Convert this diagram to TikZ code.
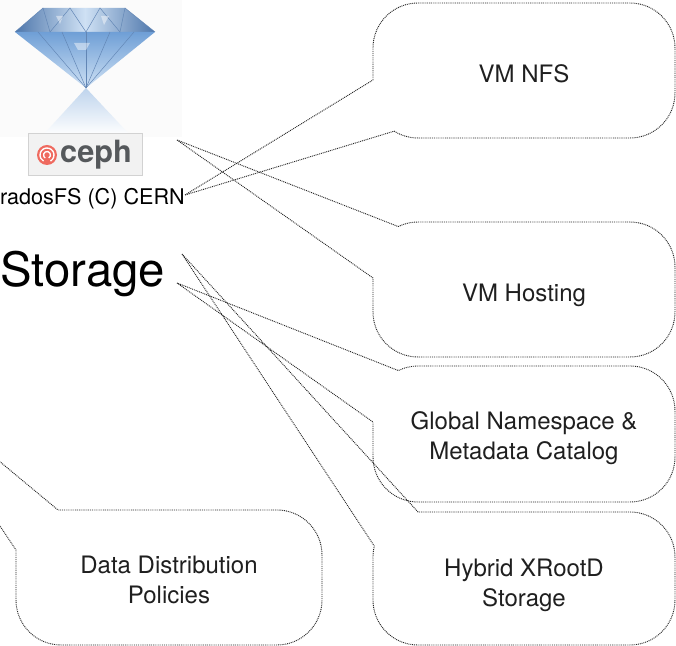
\documentclass[tikz,border=0pt]{standalone}
\usepackage{fontspec}
\setmainfont{TeX Gyre Heros}
\usepackage{xcolor}
\usetikzlibrary{positioning}
\definecolor{bubbleline}{HTML}{262626}
\definecolor{gemdark}{HTML}{2E5E9C}
\definecolor{gemmid}{HTML}{6F9FD6}
\definecolor{gemlight}{HTML}{CFE1F4}
\definecolor{cephred}{HTML}{EF6A5F}
\definecolor{cephgray}{HTML}{55585B}
\tikzset{
    bubble/.style={draw=bubbleline, line width=0.7pt, dash pattern=on 0.7pt off 0.7pt, line join=round},
    bubbletext/.style={align=center, font=\fontsize{18}{22.5}\selectfont, text=black!88},
    gemfacet/.style={draw=gemdark!75, line width=0.35pt},
    gemshine/.style={fill=white, opacity=0.45},
    cephbox/.style={draw=gray!35, fill=gray!10, line width=0.5pt},
    cephlabel/.style={font=\fontsize{23}{23}\bfseries, text=cephgray, inner sep=0pt}
}
\begin{document}
\begin{tikzpicture}[x=0.75pt, y=0.75pt]
    \useasboundingbox (0,0) rectangle (676,646);
    \clip (0,0) rectangle (676,646);

    % logo: diamond with its reflection, ceph badge
    \fill[gray!3] (0,509) rectangle (182,646);
    \shade[top color=gemmid!45, bottom color=white] (86,558) -- (130,511) -- (43,511) -- cycle;
    \shade[left color=gemdark!85, right color=gemdark!85, middle color=gemlight] (15,614) -- (43,638) -- (125,638) -- (155,614) -- cycle;
    \shade[top color=gemmid, bottom color=gemlight] (15,614) -- (155,614) -- (86,558) -- cycle;
    \draw[gemfacet] (15,614) -- (43,638) -- (50,614) -- (70,638) -- (86,614) -- (100,638) -- (120,614) -- (125,638) -- (155,614);
    \foreach \gx in {38,62,86,110,134}
        \draw[gemfacet] (\gx,614) -- (86,558);
    \fill[gemshine] (74,603) -- (90,603) -- (86,596) -- (78,596) -- cycle;
    \fill[gemshine] (56,630) -- (63,630) -- (60,622) -- cycle;
    \fill[gemshine] (101,630) -- (109,630) -- (104,621) -- cycle;
    \draw[cephbox] (28,471) rectangle (142,513);
    \node[circle, fill=cephred, minimum size=15pt, inner sep=0pt] (cephicon) at (47,491) {};
    \draw[white, line width=1pt] (cephicon.center) ++(-60:7) arc[start angle=-60, end angle=240, radius=7];
    \draw[white, line width=1pt] (cephicon.center) ++(-60:3.5) arc[start angle=-60, end angle=240, radius=3.5];
    \node[cephlabel, right=2pt of cephicon] (cephname) {ceph};

    \node[font=\fontsize{16.2}{16.2}\selectfont, anchor=base east, inner sep=0pt] (rados) at (185,441) {radosFS (C) CERN};
    \node[font=\fontsize{35.5}{35.5}\selectfont, anchor=base west, inner sep=0pt] (storage) at (0,359) {Storage};

    \coordinate (nfstip) at (185,451);
    \coordinate (hosttip) at (177,506);
    \coordinate (catalogtip) at (177,363);
    \coordinate (xrootdtip) at (182,392);
    \coordinate (policytip) at (-96,264);

    % speech bubbles
    \draw[bubble] (nfstip) -- (373,566) -- (373,598) arc[start angle=180, end angle=90, radius=45] -- (630,643) arc[start angle=90, end angle=0, radius=45] -- (675,553) arc[start angle=0, end angle=-90, radius=45] -- (418,508) arc[start angle=270, end angle=238, radius=45] -- cycle;
    \draw[bubble] (hosttip) -- (373,368) -- (373,334) arc[start angle=180, end angle=270, radius=45] -- (630,289) arc[start angle=270, end angle=360, radius=45] -- (675,379) arc[start angle=0, end angle=90, radius=45] -- (418,424) arc[start angle=90, end angle=116, radius=45] -- cycle;
    \draw[bubble] (catalogtip) -- (373,224) -- (373,189) arc[start angle=180, end angle=270, radius=45] -- (630,144) arc[start angle=270, end angle=360, radius=45] -- (675,235) arc[start angle=0, end angle=90, radius=45] -- (418,280) arc[start angle=90, end angle=116, radius=45] -- cycle;
    \draw[bubble] (xrootdtip) -- (374.3,99.9) arc[start angle=166, end angle=180, radius=45] -- (373,46) arc[start angle=180, end angle=270, radius=45] -- (630,1) arc[start angle=270, end angle=360, radius=45] -- (675,89) arc[start angle=0, end angle=90, radius=45] -- (418,134) -- cycle;
    \draw[bubble] (policytip) -- (16,96) -- (16,46) arc[start angle=180, end angle=270, radius=45] -- (277,1) arc[start angle=270, end angle=360, radius=45] -- (322,91) arc[start angle=0, end angle=90, radius=45] -- (58,136) -- cycle;

    \node[bubbletext] (vmnfs) at (524,572.5) {VM NFS};
    \node[bubbletext] (vmhost) at (524,351) {VM Hosting};
    \node[bubbletext] (catalog) at (524,207.5) {Global Namespace \&\\Metadata Catalog};
    \node[bubbletext] (xrootd) at (524,60.5) {Hybrid XRootD\\Storage};
    \node[bubbletext] (policy) at (169,66.5) {Data Distribution\\Policies};
\end{tikzpicture}
\end{document}
